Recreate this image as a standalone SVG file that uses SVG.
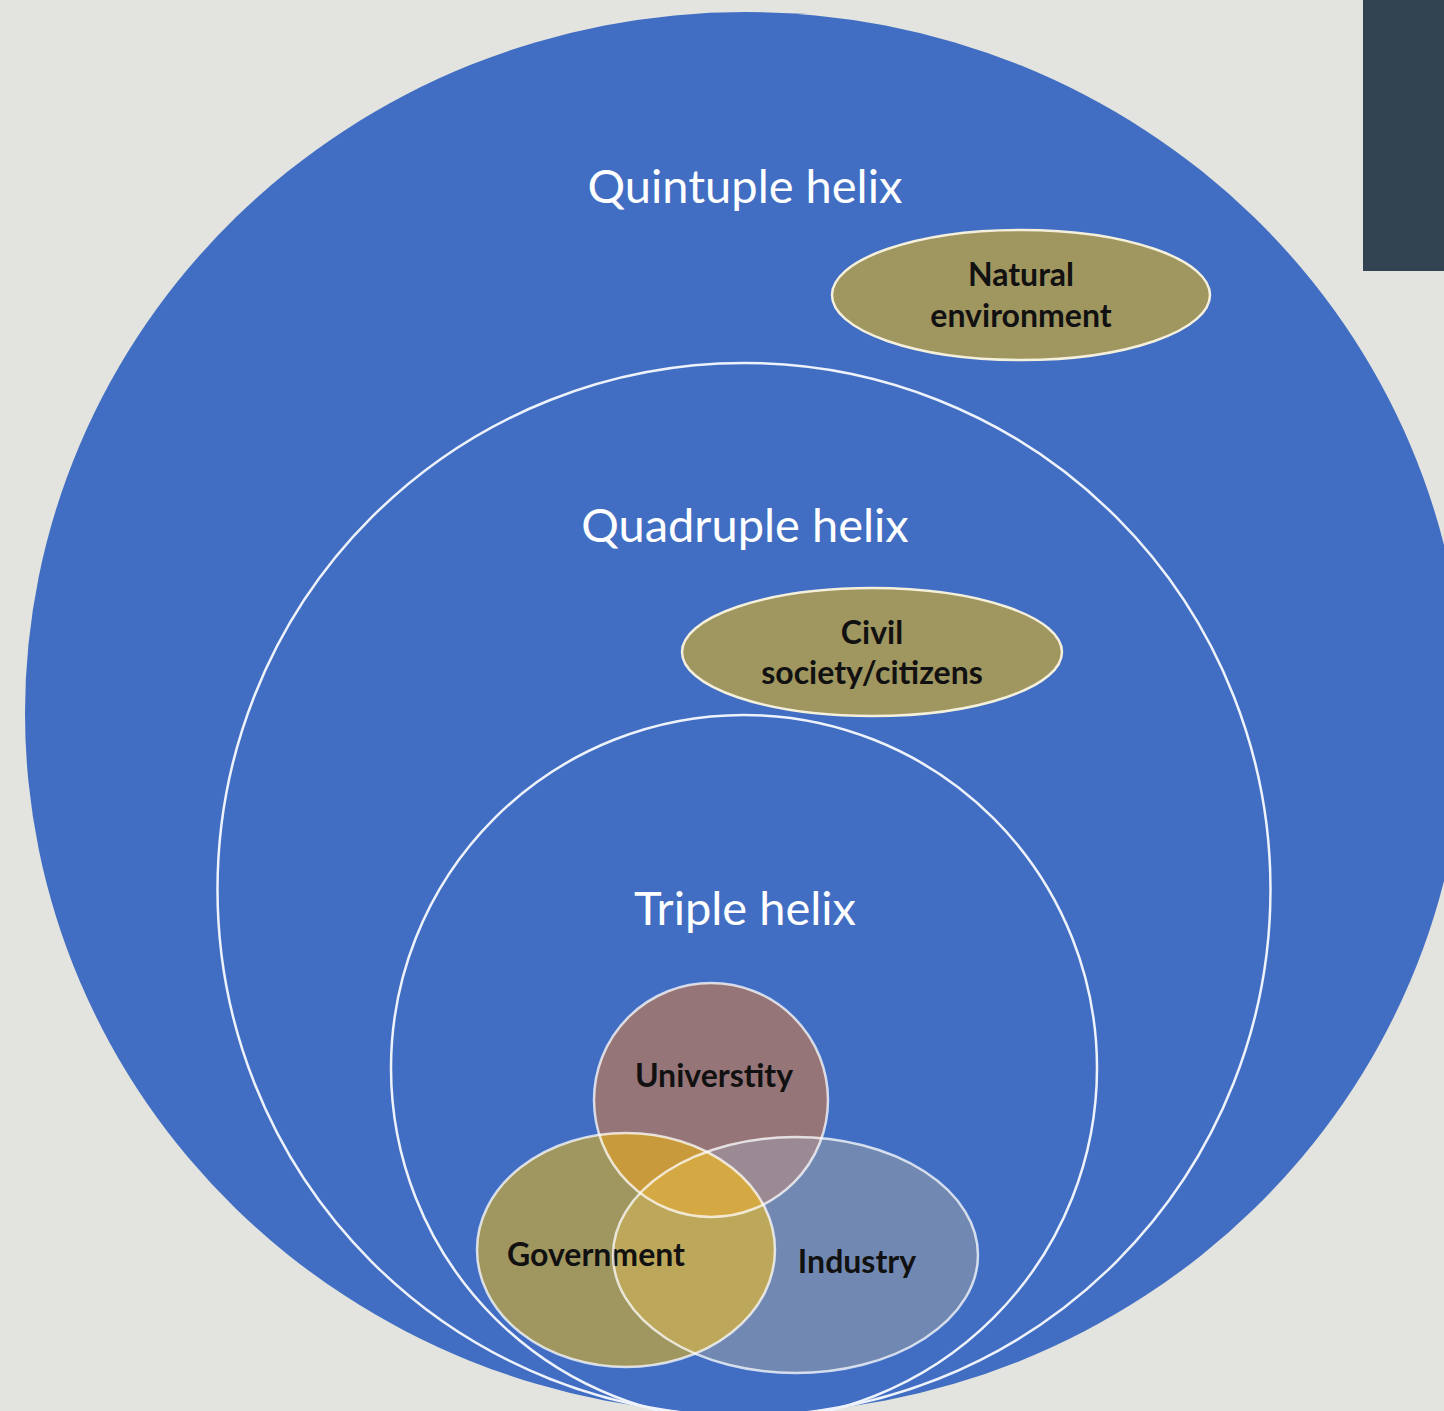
<svg xmlns="http://www.w3.org/2000/svg" width="1444" height="1411" viewBox="0 0 1444 1411">
<style>
.ring{fill:none;stroke:#eef2fb;stroke-width:2.5}
.lbl{font-family:Lato,"Open Sans",sans-serif;font-size:47px;fill:#ffffff;text-anchor:middle}
.nt{font-family:Lato,"Open Sans",sans-serif;font-weight:bold;font-size:32px;fill:#111111;text-anchor:middle}
.olive{fill:#a09660;stroke:#f4f0dc;stroke-width:2.5}
.vs{fill:none;stroke:#ffffff;stroke-opacity:0.75;stroke-width:2.5}
</style>
<defs>
<clipPath id="cU"><circle cx="711" cy="1100" r="117"/></clipPath>
<clipPath id="cG"><ellipse cx="626" cy="1250" rx="149" ry="117"/></clipPath>
</defs>
<rect x="0" y="0" width="1444" height="1411" fill="#e3e4df"/>
<rect x="1363" y="0" width="81" height="271" fill="#324352"/>
<g id="quintuple">
<ellipse cx="745" cy="713" rx="720" ry="701" fill="#416ec3"/>
<text class="lbl" x="745" y="203">Quintuple helix</text>
</g>
<g id="quadruple">
<circle class="ring" cx="744" cy="889.5" r="526.5"/>
<text class="lbl" x="745" y="542">Quadruple helix</text>
</g>
<g id="triple">
<circle class="ring" cx="744" cy="1068" r="353"/>
<text class="lbl" x="745" y="925">Triple helix</text>
</g>
<g id="natural-environment">
<ellipse class="olive" cx="1021" cy="295" rx="189" ry="65"/>
<text class="nt" x="1021" y="286">Natural</text>
<text class="nt" x="1021" y="327">environment</text>
</g>
<g id="civil-society">
<ellipse class="olive" cx="872" cy="652" rx="190" ry="64"/>
<text class="nt" x="872" y="644">Civil</text>
<text class="nt" x="872" y="684">society/citizens</text>
</g>
<g id="venn-fills">
<circle cx="711" cy="1100" r="117" fill="#967578"/>
<ellipse cx="626" cy="1250" rx="149" ry="117" fill="#a09660"/>
<ellipse cx="795.5" cy="1255" rx="182.5" ry="118" fill="#7189b2"/>
<ellipse cx="795.5" cy="1255" rx="182.5" ry="118" fill="#9b8a94" clip-path="url(#cU)"/>
<ellipse cx="795.5" cy="1255" rx="182.5" ry="118" fill="#bda75b" clip-path="url(#cG)"/>
<ellipse cx="626" cy="1250" rx="149" ry="117" fill="#c99a3b" clip-path="url(#cU)"/>
<g clip-path="url(#cU)"><ellipse cx="795.5" cy="1255" rx="182.5" ry="118" fill="#d4a843" clip-path="url(#cG)"/></g>
</g>
<g id="university">
<circle class="vs" cx="711" cy="1100" r="117"/>
<text class="nt" x="714" y="1087">Universtity</text>
</g>
<g id="government">
<ellipse class="vs" cx="626" cy="1250" rx="149" ry="117"/>
<text class="nt" x="596" y="1266">Government</text>
</g>
<g id="industry">
<ellipse class="vs" cx="795.5" cy="1255" rx="182.5" ry="118"/>
<text class="nt" x="857" y="1273">Industry</text>
</g>
<g id="connectors"></g>
</svg>
